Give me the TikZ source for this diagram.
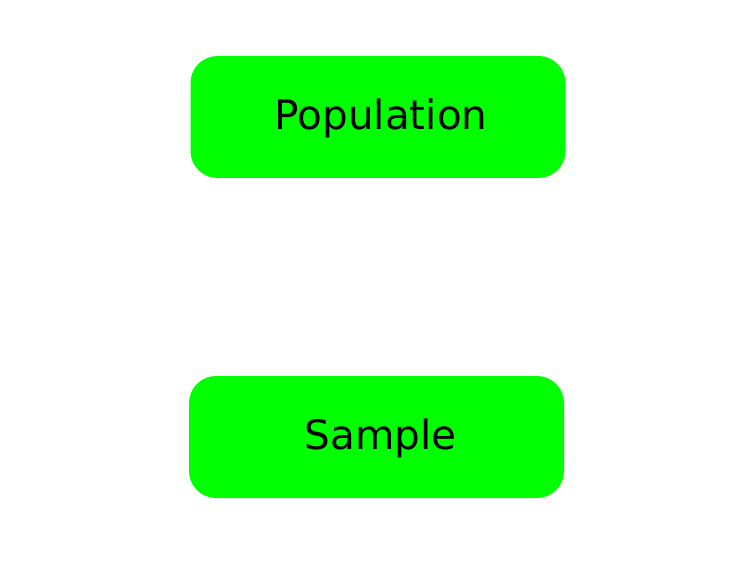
\documentclass[tikz,border=0pt]{standalone}
\usepackage{fontspec}
\setmainfont{DejaVu Sans}
\definecolor{boxgreen}{HTML}{00FF00}
\begin{document}
\begin{tikzpicture}[x=1pt,y=-1pt,
  greenbox/.style={fill=boxgreen, draw=none, rounded corners=27pt,
    minimum width=375pt, minimum height=122pt, inner sep=0pt},
  boxtext/.style={inner sep=0pt, font=\fontsize{40.5}{48}\selectfont}]
\useasboundingbox (0,0) rectangle (756,567);
\node[greenbox] (pop) at (378,117) {};
\node[boxtext] (poptext) at ([xshift=3pt,yshift=-1.5pt]pop.center) {Population};
\node[greenbox] (samp) at (376.5,437) {};
\node[boxtext] (samptext) at ([xshift=4pt,yshift=-1.5pt]samp.center) {Sample};
\end{tikzpicture}
\end{document}
